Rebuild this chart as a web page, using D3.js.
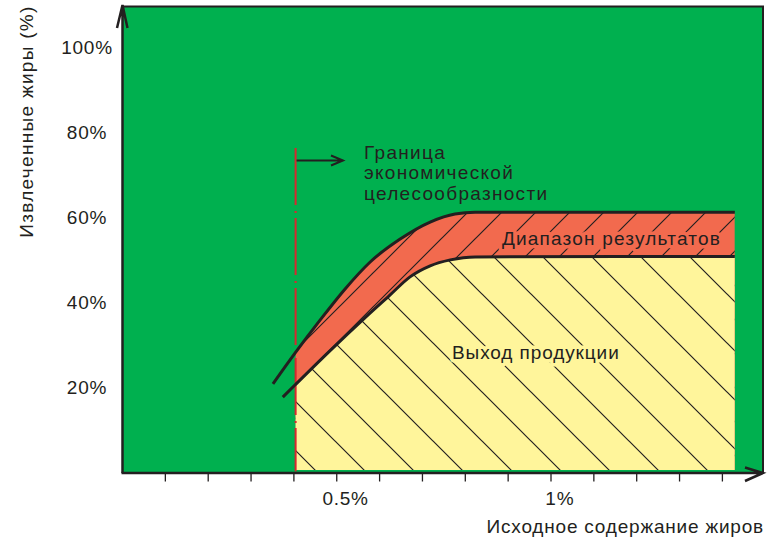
<!DOCTYPE html>
<html>
<head>
<meta charset="utf-8">
<script src="https://cdn.jsdelivr.net/npm/d3@7/dist/d3.min.js"></script>
<style>
  html, body { margin: 0; padding: 0; background: #ffffff; }
  svg { display: block; }
  text { font-family: "Liberation Sans", Arial, sans-serif; fill: #231f20; }
</style>
</head>
<body>
<svg id="chart" width="774" height="539"></svg>
<script>
// Initial fat content (%) on the x axis, extracted fat (%) on the y axis
const xTicks = [0.1, 0.2, 0.3, 0.4, 0.5, 0.6, 0.7, 0.8, 0.9, 1.0, 1.1, 1.2, 1.3, 1.4];
const xTickLabelValues = [0.5, 1.0];
const xTickLabelNums = ["0.5", "1"];
const yTicks = [20, 40, 60, 80, 100];
const yTickLabels = ["20%", "40%", "60%", "80%", "100%"];

// Upper bound of the result range
const upperX = [0.351, 0.403, 0.461, 0.519, 0.578, 0.648, 0.718, 0.776, 0.823, 1.429];
const upperY = [20.6, 27.9, 35.6, 42.9, 49.3, 54.7, 58.7, 60.6, 61.0, 61.0];
// Product yield (lower bound of the range)
const lowerX = [0.374, 0.403, 0.484, 0.565, 0.624, 0.671, 0.718, 0.765, 0.823, 1.429];
const lowerY = [17.5, 20.4, 28.4, 36.1, 41.5, 45.8, 48.4, 49.8, 50.5, 50.6];

const economicLimit = 0.404;   // economic feasibility boundary
const rangeEnd = 1.429;        // right end of shaded regions

const C = {
  green: "#00b04f",
  salmon: "#f26a4e",
  yellow: "#fff59b",
  ink: "#231f20",
  red: "#d7282f"
};

const svg = d3.select("#chart");
const x = d3.scaleLinear().domain([0, 1.5]).range([122.5, 765.25]);
const y = d3.scaleLinear().domain([0, 100]).range([471.5, 46.5]);

const defs = svg.append("defs");

// Hatching: "/" lines over the result range, "\" lines over the yield
const pRed = defs.append("pattern").attr("id", "hatchRed")
  .attr("patternUnits", "userSpaceOnUse").attr("width", 34).attr("height", 34);
pRed.append("path").attr("d", "M-2,2 L2,-2 M0,34 L34,0 M32,36 L36,32")
  .attr("stroke", C.ink).attr("stroke-width", 1.2).attr("fill", "none");

const pYel = defs.append("pattern").attr("id", "hatchYellow")
  .attr("patternUnits", "userSpaceOnUse").attr("x", 41).attr("width", 49).attr("height", 49);
pYel.append("path").attr("d", "M0,0 L49,49 M-2,47 L2,51 M47,-2 L51,2")
  .attr("stroke", C.ink).attr("stroke-width", 1.2).attr("fill", "none");

defs.append("clipPath").attr("id", "regionClip")
  .append("rect")
  .attr("x", x(economicLimit)).attr("y", 0)
  .attr("width", x(rangeEnd) - x(economicLimit))
  .attr("height", y(0) - 1.5);

// Plot background
svg.append("rect")
  .attr("x", x(0)).attr("y", 6.5)
  .attr("width", 763 - x(0)).attr("height", y(0) + 1.5 - 6.5)
  .attr("fill", C.green);
svg.append("path")
  .attr("d", `M${x(0)},6.5 H763 V${y(0) + 1.5}`)
  .attr("fill", "none").attr("stroke", C.ink).attr("stroke-width", 2);

const upperPts = upperX.map((v, i) => [v, upperY[i]]);
const lowerPts = lowerX.map((v, i) => [v, lowerY[i]]);

const areaGen = d3.area().curve(d3.curveMonotoneX)
  .x(d => x(d[0])).y0(y(0)).y1(d => y(d[1]));
const lineGen = d3.line().curve(d3.curveMonotoneX)
  .x(d => x(d[0])).y(d => y(d[1]));

const regions = svg.append("g").attr("clip-path", "url(#regionClip)");
regions.append("path").attr("d", areaGen(upperPts)).attr("fill", C.salmon);
regions.append("path").attr("d", areaGen(upperPts)).attr("fill", "url(#hatchRed)");
regions.append("path").attr("d", areaGen(lowerPts)).attr("fill", C.yellow);
regions.append("path").attr("d", areaGen(lowerPts)).attr("fill", "url(#hatchYellow)");

// Economic feasibility boundary (dash-dot)
svg.append("line")
  .attr("x1", x(economicLimit)).attr("x2", x(economicLimit))
  .attr("y1", 148).attr("y2", y(0))
  .attr("stroke", C.red).attr("stroke-width", 2)
  .attr("stroke-dasharray", "57,6,2,5");

// Bounding curves
svg.append("path").attr("d", lineGen(upperPts))
  .attr("fill", "none").attr("stroke", C.ink).attr("stroke-width", 3);
svg.append("path").attr("d", lineGen(lowerPts))
  .attr("fill", "none").attr("stroke", C.ink).attr("stroke-width", 3);

// Arrow from the boundary toward its label
const ax0 = x(economicLimit) + 1, ax1 = 343, ay = 160.5;
svg.append("path")
  .attr("d", `M${ax0},${ay} H${ax1} M${ax1 - 12},${ay - 5} L${ax1},${ay} L${ax1 - 12},${ay + 5}`)
  .attr("fill", "none").attr("stroke", C.ink).attr("stroke-width", 2);

const limitLabel = svg.append("text").attr("font-size", 19).attr("letter-spacing", 1.3);
["Граница", "экономической", "целесообразности"].forEach((s, i) => {
  limitLabel.append("tspan").attr("x", 364).attr("y", 158.5 + i * 20.5).text(s);
});

// Region labels with a halo in their region's colour
svg.append("text")
  .attr("x", 721).attr("y", 244.5).attr("text-anchor", "end").attr("font-size", 19)
  .attr("letter-spacing", 1.2)
  .attr("stroke", C.salmon).attr("stroke-width", 7).attr("paint-order", "stroke")
  .attr("stroke-linejoin", "round")
  .text("Диапазон результатов");
svg.append("text")
  .attr("x", 452).attr("y", 358.5).attr("font-size", 19)
  .attr("letter-spacing", 0.9)
  .attr("stroke", C.yellow).attr("stroke-width", 7).attr("paint-order", "stroke")
  .attr("stroke-linejoin", "round")
  .text("Выход продукции");

// Axes with open arrowheads
svg.append("path")
  .attr("d", `M${x(0)},${y(0) + 1.5} V5 M${x(0) - 5.5},28 L${x(0)},5 L${x(0) + 5},28`)
  .attr("fill", "none").attr("stroke", C.ink).attr("stroke-width", 2.5);
svg.append("path")
  .attr("d", `M${x(0) - 1},${y(0) + 1.5} H763 M745,467.5 L763,${y(0) + 1.5} L745,481`)
  .attr("fill", "none").attr("stroke", C.ink).attr("stroke-width", 2.5);

// X ticks
svg.append("g").selectAll("line").data(xTicks).join("line")
  .attr("x1", d => x(d)).attr("x2", d => x(d))
  .attr("y1", y(0) + 2).attr("y2", 481.5)
  .attr("stroke", C.ink).attr("stroke-width", 1.3);

// X tick labels: the number is centred on the tick, "%" trails after it
xTickLabelValues.forEach((v, i) => {
  const t = svg.append("text").attr("y", 505).attr("font-size", 19).attr("letter-spacing", 0.75);
  const num = t.append("tspan").text(xTickLabelNums[i]);
  t.append("tspan").text("%");
  const w = num.node().getComputedTextLength();
  t.attr("x", x(v) - w / 2);
});

// Y tick labels
svg.append("g").selectAll("text").data(yTicks).join("text")
  .attr("x", 87).attr("y", d => y(d) + 7)
  .attr("text-anchor", "middle").attr("font-size", 19).attr("letter-spacing", 0.75)
  .text((d, i) => yTickLabels[i]);

// Axis titles
svg.append("text")
  .attr("x", 764).attr("y", 533).attr("text-anchor", "end").attr("font-size", 19)
  .attr("letter-spacing", 0.8)
  .text("Исходное содержание жиров");
svg.append("text")
  .attr("transform", "translate(33,121.5) rotate(-90)")
  .attr("text-anchor", "middle").attr("font-size", 19).attr("letter-spacing", 1.3)
  .text("Извлеченные жиры (%)");
</script>
</body>
</html>
